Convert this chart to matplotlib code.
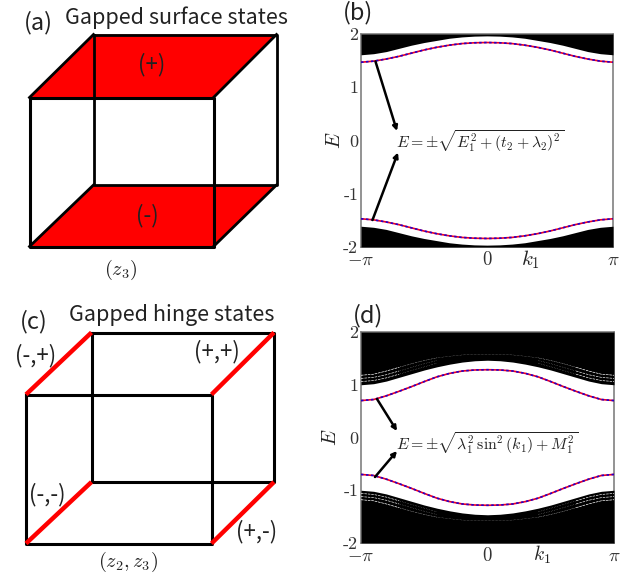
import matplotlib
matplotlib.use('Agg')
import matplotlib.pyplot as plt
import numpy as np

plt.rcParams['mathtext.fontset'] = 'cm'
plt.rcParams['axes.unicode_minus'] = False

W, H = 641, 579

# k in units of pi
k = np.array([-1, -.9, -.8, -.7, -.6, -.5, -.4, -.3, -.2, -.1, 0, .1, .2, .3, .4, .5, .6, .7, .8, .9, 1])

# panel (b)
edge_b_up = [1.47, 1.49, 1.53, 1.58, 1.64, 1.70, 1.75, 1.79, 1.82, 1.835, 1.84, 1.835, 1.82, 1.79, 1.75, 1.70, 1.64, 1.58, 1.53, 1.49, 1.47]
edge_b_dn = [-1.47, -1.49, -1.53, -1.58, -1.64, -1.70, -1.75, -1.79, -1.82, -1.835, -1.84, -1.835, -1.82, -1.79, -1.75, -1.70, -1.64, -1.58, -1.53, -1.49, -1.47]
bulk_b_up = [1.61, 1.63, 1.67, 1.73, 1.79, 1.84, 1.88, 1.92, 1.945, 1.96, 1.965, 1.96, 1.945, 1.92, 1.88, 1.84, 1.79, 1.73, 1.67, 1.63, 1.61]
bulk_b_dn = [-1.61, -1.63, -1.67, -1.73, -1.79, -1.84, -1.88, -1.92, -1.945, -1.96, -1.965, -1.96, -1.945, -1.92, -1.88, -1.84, -1.79, -1.73, -1.67, -1.63, -1.61]

# panel (d)
edge_d_up = [.70, .72, .79, .875, .965, 1.06, 1.15, 1.215, 1.26, 1.28, 1.285, 1.28, 1.26, 1.215, 1.15, 1.06, .965, .875, .79, .72, .70]
edge_d_dn = [-.70, -.72, -.79, -.875, -.965, -1.06, -1.15, -1.215, -1.26, -1.28, -1.285, -1.28, -1.26, -1.215, -1.15, -1.06, -.965, -.875, -.79, -.72, -.70]
bulk_d_up = [1.0, 1.02, 1.07, 1.14, 1.21, 1.28, 1.34, 1.39, 1.43, 1.455, 1.465, 1.455, 1.43, 1.39, 1.34, 1.28, 1.21, 1.14, 1.07, 1.02, 1.0]
bulk_d_dn = [-1.0, -1.02, -1.07, -1.14, -1.21, -1.28, -1.34, -1.39, -1.43, -1.455, -1.465, -1.455, -1.43, -1.39, -1.34, -1.28, -1.21, -1.14, -1.07, -1.02, -1.0]
gap_d_1 = [1.06, 1.08, 1.13, 1.20, 1.27, 1.34, 1.41, 1.46, 1.50, 1.52, 1.53, 1.52, 1.50, 1.46, 1.41, 1.34, 1.27, 1.20, 1.13, 1.08, 1.06]
gap_d_2 = [1.12, 1.14, 1.19, 1.26, 1.33, 1.40, 1.46, 1.50, 1.54, 1.55, 1.56, 1.55, 1.54, 1.50, 1.46, 1.40, 1.33, 1.26, 1.19, 1.14, 1.12]
gap_d_3 = [1.18, 1.20, 1.26, 1.33, 1.40, 1.46, 1.51, 1.54, 1.565, 1.575, 1.58, 1.575, 1.565, 1.54, 1.51, 1.46, 1.40, 1.33, 1.26, 1.20, 1.18]

k_ticks = [-1, 0, 1]
k_labels = [r'$-\pi$', r'$0$', r'$\pi$']
e_ticks = [-2, -1, 0, 1, 2]
e_labels = ['-2', '-1', '0', '1', '2']

# cube corners, in figure pixels
front_a = ([29.5, 213.5, 213.5, 29.5, 29.5], [97.5, 97.5, 246.5, 246.5, 97.5])
back_a = ([93.5, 276.5, 276.5, 93.5, 93.5], [34.5, 34.5, 185, 185, 34.5])
front_c = ([26, 211.5, 211.5, 26, 26], [394.5, 394.5, 543.5, 543.5, 394.5])
back_c = ([91.5, 274, 274, 91.5, 91.5], [332.5, 332.5, 482, 482, 332.5])

text_font = ['Noto Sans CJK SC', 'DejaVu Sans']
text_col = '#222222'
tick_col = '#333333'


def band_axes(box, edge_up, edge_dn, bulk_up, bulk_dn):
    l, t, r, b = box
    ax = fig.add_axes([l / W, 1 - b / H, (r - l) / W, (b - t) / H])
    ax.fill_between(k, bulk_up, 2, color='k', lw=0, zorder=3, clip_on=False)
    ax.fill_between(k, -2, bulk_dn, color='k', lw=0, zorder=3, clip_on=False)
    for e in (edge_up, edge_dn):
        ax.plot(k, e, c='#ee0022', lw=1.2, zorder=4)
        ax.plot(k, e, c='#2200cc', lw=1.2, ls=(0, (1.5, 1.5)), zorder=4)
    ax.set_xlim(-1, 1)
    ax.set_ylim(-2, 2)
    ax.set_xticks(k_ticks)
    ax.set_xticklabels(k_labels, size=13.5, color=tick_col)
    ax.set_yticks(e_ticks)
    ax.set_yticklabels(e_labels, size=13, color=tick_col, family='cmr10')
    ax.tick_params(axis='x', length=0, pad=2)
    ax.tick_params(axis='y', length=0, pad=2)
    for s in ax.spines.values():
        s.set_color('#808080')
        s.set_linewidth(1.2)
    return ax


fig = plt.figure(figsize=(W / 100, H / 100), dpi=100)

ax_b = band_axes((361, 34, 613, 247), edge_b_up, edge_b_dn, bulk_b_up, bulk_b_dn)
ax_d = band_axes((361, 332, 614, 543), edge_d_up, edge_d_dn, bulk_d_up, bulk_d_dn)

# thin white gaps in the bulk, clear near the zone edge and dotted further in
for g in (gap_d_1, gap_d_2, gap_d_3):
    g = np.array(g)
    for side in (k < 0, k > 0):
        m = (np.abs(k) >= .7) & side
        ax_d.plot(k[m], g[m], c='w', lw=0.45, ls=(0, (4, 1.5)), zorder=3.5)
        ax_d.plot(k[m], -g[m], c='w', lw=0.45, ls=(0, (4, 1.5)), zorder=3.5)
        m = (np.abs(k) >= .4) & (np.abs(k) <= .7) & side
        ax_d.plot(k[m], g[m], c='w', lw=0.3, ls=(0, (1, 3)), zorder=3.5)
        ax_d.plot(k[m], -g[m], c='w', lw=0.3, ls=(0, (1, 3)), zorder=3.5)
ax_d.plot(k, gap_d_3, c='w', lw=0.2, ls=(0, (2, 3)), zorder=3.5)
ax_d.plot(k, -np.array(gap_d_3), c='w', lw=0.2, ls=(0, (2, 3)), zorder=3.5)

# everything else goes on an overlay in pixel coordinates
ov = fig.add_axes([0, 0, 1, 1], zorder=5)
ov.set_xlim(0, W)
ov.set_ylim(H, 0)
ov.axis('off')
ov.patch.set_alpha(0)

# cube (a)
fx, fy = front_a
bx, by = back_a
ov.fill([fx[0], fx[1], bx[1], bx[0]], [fy[0], fy[1], by[1], by[0]], c='#ff0000', lw=0)
ov.fill([fx[3], fx[2], bx[2], bx[3]], [fy[3], fy[2], by[2], by[3]], c='#ff0000', lw=0)
ov.plot(bx, by, c='k', lw=2)
ov.plot(fx, fy, c='k', lw=2.2)
for i in range(4):
    ov.plot([fx[i], bx[i]], [fy[i], by[i]], c='k', lw=2)

# cube (c)
fx, fy = front_c
bx, by = back_c
ov.plot(bx, by, c='k', lw=2.2)
ov.plot(fx, fy, c='k', lw=2.2)
for i in range(4):
    ov.plot([fx[i], bx[i]], [fy[i], by[i]], c='#ff0000', lw=3.2, solid_capstyle='butt')

# text
label = dict(family=text_font, color=text_col, ha='center', va='center', fontweight='light')
ov.text(38, 23, '(a)', size=17, **label)
ov.text(176, 18, 'Gapped surface states', size=15.5, **label)
ov.text(358, 13, '(b)', size=17, **label)
ov.text(34, 322, '(c)', size=17, **label)
ov.text(172, 315, 'Gapped hinge states', size=15.5, **label)
ov.text(368, 316, '(d)', size=17, **label)

ov.text(152, 65, '(+)', size=16, **label)
ov.text(147, 216, '(-)', size=16, **label)
ov.text(36, 356, '(-,+)', size=16, **label)
ov.text(217, 352, '(+,+)', size=16, **label)
ov.text(47, 495, '(-,-)', size=16, **label)
ov.text(257, 532, '(+,-)', size=16, **label)
ov.text(121, 270, r'$(z_3)$', size=14.5, color=text_col, ha='center', va='center')
ov.text(128, 562, r'$(z_2,z_3)$', size=14.5, color=text_col, ha='center', va='center')

ov.text(530, 260, r'$k_1$', size=15, color=text_col, ha='center', va='center')
ov.text(542, 555, r'$k_1$', size=14, color=text_col, ha='center', va='center')
ov.text(335, 140, r'$E$', size=14.5, color=text_col, rotation=90, ha='center', va='center')
ov.text(330, 437, r'$E$', size=14.5, color=text_col, rotation=90, ha='center', va='center')

ov.text(396, 141, r'$E=\pm\sqrt{E_1^2+(t_2+\lambda_2)^2}$', size=11.4, color=text_col, ha='left', va='center')
ov.text(396, 443, r'$E=\pm\sqrt{\lambda_1^2\,\sin^2(k_1)+M_1^2}$', size=11.4, color=text_col, ha='left', va='center')

# arrows
arrow = dict(arrowstyle='-|>', color='k', lw=1.8, mutation_scale=7, shrinkA=0, shrinkB=0)
ov.annotate('', xy=(397, 131), xytext=(375.5, 61.5), arrowprops=arrow)
ov.annotate('', xy=(398, 152.5), xytext=(372.5, 220), arrowprops=arrow)
ov.annotate('', xy=(397, 431), xytext=(377, 399), arrowprops=arrow)
ov.annotate('', xy=(397, 451), xytext=(375, 477), arrowprops=arrow)

plt.savefig('out.png', dpi=100)
